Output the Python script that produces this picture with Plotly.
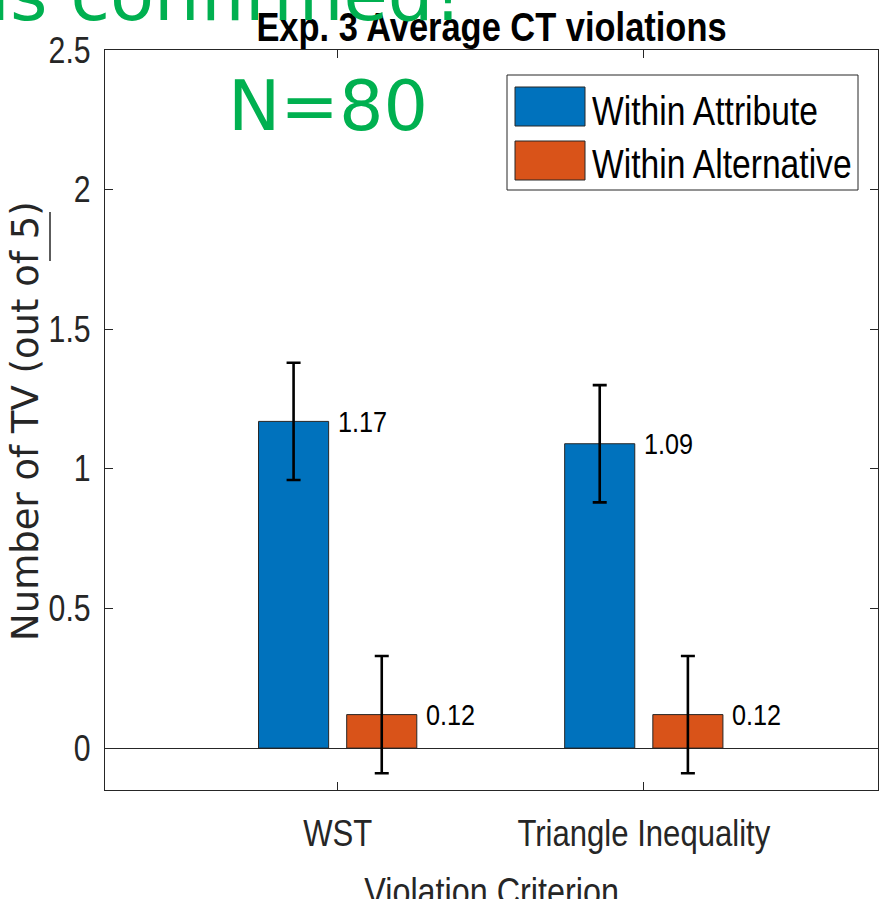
import plotly.graph_objects as go

# ---- data ----
criteria = ["WST", "Triangle Inequality"]
series_names = ["Within Attribute", "Within Alternative"]
within_attribute = [1.17, 1.09]
within_alternative = [0.12, 0.12]
err_attribute = [0.21, 0.21]
err_alternative = [0.21, 0.21]
y_ticks = [0, 0.5, 1, 1.5, 2, 2.5]

# ---- styling ----
W, H = 880, 899
M_L, M_R, M_T, M_B = 105, 2, 50, 109
BLUE = "#0072BD"
ORANGE = "#D95319"
AXIS = "#262626"
GREEN = "#00B050"
NARROW = "Liberation Sans Narrow, Arial Narrow, Liberation Sans, sans-serif"
WIDE = "DejaVu Sans, Liberation Sans, sans-serif"
BAR_GAP = 0.424
GROUP_GAP = 0.205

plot_w = W - M_L - M_R
plot_h = H - M_T - M_B


def px_x(p):
    return (p - M_L) / plot_w


def px_y(p):
    return (H - M_B - p) / plot_h


x_pos = list(range(1, len(criteria) + 1))
slot = (1 - BAR_GAP) / 2
bar_w = slot * (1 - GROUP_GAP)

fig = go.Figure()
for name, vals, errs, color in [
    (series_names[0], within_attribute, err_attribute, BLUE),
    (series_names[1], within_alternative, err_alternative, ORANGE),
]:
    fig.add_trace(go.Bar(
        x=x_pos, y=vals, name=name,
        marker=dict(color=color, line=dict(color=AXIS, width=1)),
        error_y=dict(type="data", array=errs, visible=True,
                     color="black", thickness=2.6, width=7),
        showlegend=False,
    ))

# value labels at the right of each bar top
for k, vals in enumerate([within_attribute, within_alternative]):
    sign = -1 if k == 0 else 1
    for xi, v in zip(x_pos, vals):
        fig.add_annotation(
            x=xi + sign * slot / 2 + bar_w / 2, y=v, xref="x", yref="y",
            text=f"{v:.2f}", showarrow=False, xanchor="left", yanchor="middle",
            align="left", xshift=7,
            font=dict(family=NARROW, size=30, color="black"),
        )

axis_common = dict(
    showline=True, linecolor=AXIS, linewidth=1.3, mirror="ticks",
    ticks="inside", ticklen=8, tickcolor=AXIS, tickwidth=1.3,
    showgrid=False,
)

fig.update_layout(
    width=W, height=H,
    margin=dict(l=M_L, r=M_R, t=M_T, b=M_B),
    paper_bgcolor="white", plot_bgcolor="white",
    barmode="group", bargap=BAR_GAP, bargroupgap=GROUP_GAP,
    title=dict(
        text="<b>Exp. 3 Average CT violations</b>",
        x=0.5, xref="paper", xanchor="center",
        y=1 - 27 / H, yref="container", yanchor="middle",
        font=dict(family=NARROW, size=41, color="black"),
    ),
    xaxis=dict(
        range=[0.24, 2.765], tickvals=x_pos, ticktext=criteria,
        tickfont=dict(family=NARROW, size=37, color=AXIS),
        ticklabelstandoff=10, zeroline=False, **axis_common,
    ),
    yaxis=dict(
        range=[-0.15, 2.5], tickvals=y_ticks,
        ticktext=[f"{t:g}" for t in y_ticks],
        tickfont=dict(family=NARROW, size=36, color=AXIS),
        ticklabelstandoff=6,
        zeroline=True, zerolinecolor=AXIS, zerolinewidth=1.3,
        **axis_common,
    ),
)

# axis titles
fig.add_annotation(
    x=0.5, y=px_y(868), xref="paper", yref="paper",
    text="Violation Criterion", showarrow=False,
    xanchor="center", yanchor="top",
    font=dict(family=NARROW, size=38.5, color=AXIS),
)
fig.add_annotation(
    x=px_x(25), y=px_y(421), xref="paper", yref="paper",
    text="Number of TV (out of 5)", showarrow=False, textangle=-90,
    xanchor="center", yanchor="middle",
    font=dict(family=WIDE, size=37, color=AXIS),
)
fig.add_shape(
    type="line", xref="paper", yref="paper",
    x0=px_x(50), x1=px_x(50), y0=px_y(212), y1=px_y(261),
    line=dict(color=AXIS, width=1.5),
)

# legend box drawn by hand with wide swatches
fig.add_shape(type="rect", xref="paper", yref="paper",
              x0=px_x(507), x1=px_x(858), y0=px_y(190), y1=px_y(75),
              line=dict(color=AXIS, width=1), fillcolor="white")
for name, color, top, bot, mid in [
    (series_names[0], BLUE, 87, 126, 111),
    (series_names[1], ORANGE, 141, 180, 164),
]:
    fig.add_shape(type="rect", xref="paper", yref="paper",
                  x0=px_x(515), x1=px_x(585), y0=px_y(bot), y1=px_y(top),
                  line=dict(color=AXIS, width=1), fillcolor=color)
    fig.add_annotation(x=px_x(590), y=px_y(mid), xref="paper", yref="paper",
                       text=name, showarrow=False, xanchor="left",
                       yanchor="middle", align="left",
                       font=dict(family=NARROW, size=40, color="black"))

# green overlay notes
fig.add_annotation(
    x=px_x(328), y=px_y(106), xref="paper", yref="paper",
    text="N=80", showarrow=False, xanchor="center", yanchor="middle",
    font=dict(family=WIDE, size=70, color=GREEN),
)
fig.add_annotation(
    x=px_x(464), y=px_y(39), xref="paper", yref="paper",
    text="is confirmed!", showarrow=False, xanchor="right", yanchor="bottom",
    font=dict(family=WIDE, size=72, color=GREEN),
)

# Condense every text set in the narrow family (falls back to a regular
# face when no narrow face is present) by compressing its glyph advance.
SQUEEZE_JS = """
var gd = document.getElementById('{plot_id}');
var SQ = 0.84;
function squeeze() {
  gd.querySelectorAll('text').forEach(function (t) {
    var ff = t.style.fontFamily || t.getAttribute('font-family') || '';
    if (ff.indexOf('Narrow') < 0) return;
    if (t.getAttribute('data-sq') === t.textContent) return;
    t.removeAttribute('textLength');
    var w = t.getComputedTextLength();
    if (w > 0) {
      t.setAttribute('textLength', (w * SQ).toFixed(2));
      t.setAttribute('lengthAdjust', 'spacingAndGlyphs');
      t.setAttribute('data-sq', t.textContent);
    }
  });
}
squeeze();
gd.on('plotly_afterplot', squeeze);
setTimeout(squeeze, 30);
setTimeout(squeeze, 300);
"""

fig.write_html("out.html", post_script=SQUEEZE_JS)
